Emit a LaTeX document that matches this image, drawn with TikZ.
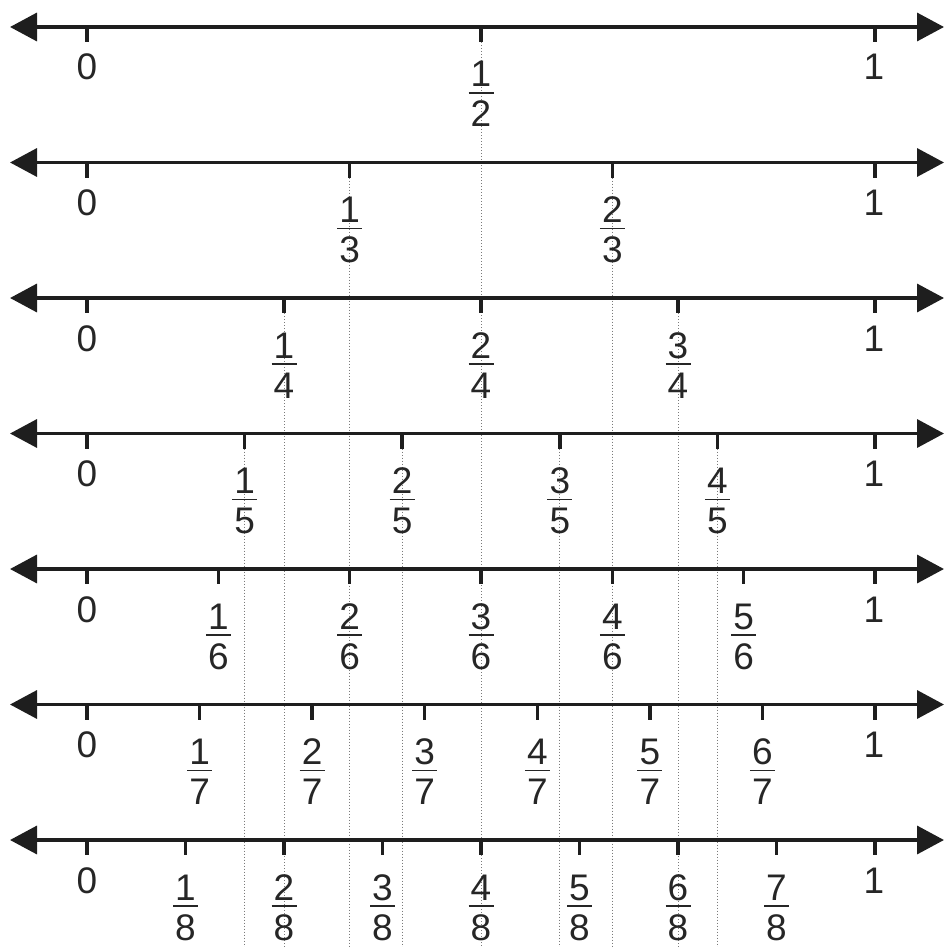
\documentclass[tikz,border=0pt]{standalone}
\usepackage{fontspec}
\setmainfont{Liberation Sans}
\usetikzlibrary{arrows.meta}
\definecolor{ink}{HTML}{1E1E1E}
\definecolor{txt}{HTML}{262626}
\definecolor{dots}{HTML}{7A7A7A}
\begin{document}
\begin{tikzpicture}[x=1pt,y=-1pt,
  axis/.style={line width=3.5pt, draw=ink, {Triangle[length=27pt,width=28pt]}-{Triangle[length=27pt,width=28pt]}},
  tickmark/.style={line width=3.5pt, draw=ink},
  guide/.style={draw=dots, line width=0.9pt, dash pattern=on 1pt off 2pt},
  lbl/.style={font=\fontsize{37}{40}\selectfont, text=txt, inner sep=0pt, anchor=base},
  fracbar/.style={line width=1.5pt, draw=txt}]
\useasboundingbox (0,0) rectangle (944,947);
% dotted guide lines
\foreach \n/\k in {2/1,3/1,3/2,4/1,4/3,5/1,5/2,5/3,5/4}{
  \pgfmathsetmacro\yy{27+135.5*(\n-2)}
  \pgfmathsetmacro\xx{87+788*\k/\n}
  \coordinate (gs\n-\k) at (\xx,\yy);
  \coordinate (ge\n-\k) at (\xx,947);
  \draw[guide] (gs\n-\k) -- (ge\n-\k);
}
% number lines
\foreach \n in {2,...,8}{
  \pgfmathsetmacro\yy{27+135.5*(\n-2)}
  \coordinate (L\n) at (10,\yy);
  \coordinate (R\n) at (944,\yy);
  \draw[axis] (L\n) -- (R\n);
  \coordinate (tz\n) at (87,\yy);
  \coordinate (to\n) at (875,\yy);
  \draw[tickmark] (tz\n) -- ++(0,15);
  \draw[tickmark] (to\n) -- ++(0,15);
  \node[lbl] (z\n) at (87,\yy+53) {0};
  \node[lbl] (o\n) at (874,\yy+53) {1};
  \pgfmathtruncatemacro\m{\n-1}
  \foreach \k in {1,...,\m}{
    \pgfmathsetmacro\xx{87+788*\k/\n}
    \coordinate (t\n-\k) at (\xx,\yy);
    \draw[tickmark] (t\n-\k) -- ++(0,15);
    \node[lbl] (num\n-\k) at (\xx,\yy+60) {\k};
    \node[lbl] (den\n-\k) at (\xx,\yy+100) {\n};
    \coordinate (bl\n-\k) at (\xx-12.5,\yy+66);
    \coordinate (br\n-\k) at (\xx+12.5,\yy+66);
    \draw[fracbar] (bl\n-\k) -- (br\n-\k);
  }
}
\end{tikzpicture}
\end{document}
